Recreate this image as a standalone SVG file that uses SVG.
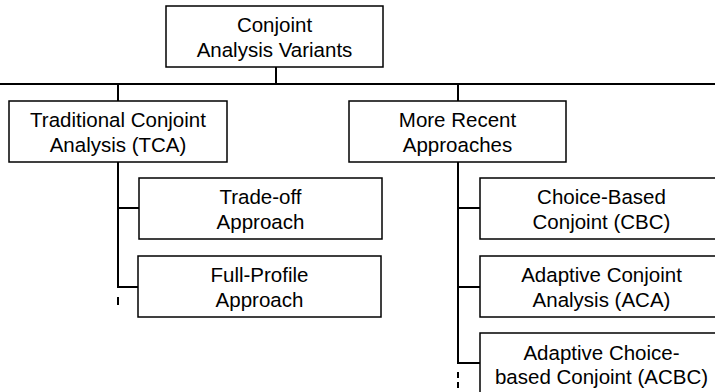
<svg xmlns="http://www.w3.org/2000/svg" width="715" height="392" viewBox="0 0 715 392">
<style>
.box{fill:#fff;stroke:#000;stroke-width:1.5}
.t{font-family:"Liberation Sans",Arial,sans-serif;font-size:20.5px;fill:#000;text-anchor:middle}
.c{stroke:#000;stroke-width:2;fill:none}
</style>
<rect width="715" height="392" fill="#fff"/>
<g id="connectors">
<line class="c" x1="276" y1="67" x2="276" y2="84"/>
<line class="c" x1="0" y1="84" x2="715" y2="84"/>
<line class="c" x1="118" y1="84" x2="118" y2="101"/>
<line class="c" x1="458" y1="84" x2="458" y2="101"/>
<line class="c" x1="118" y1="162" x2="118" y2="287"/>
<line class="c" x1="117" y1="208" x2="139" y2="208"/>
<line class="c" x1="117" y1="287" x2="138" y2="287"/>
<line class="c" x1="118" y1="297" x2="118" y2="305"/>
<line class="c" x1="458" y1="162" x2="458" y2="363"/>
<line class="c" x1="457" y1="208" x2="480" y2="208"/>
<line class="c" x1="457" y1="287" x2="480" y2="287"/>
<line class="c" x1="457" y1="363" x2="480" y2="363"/>
<line class="c" x1="458" y1="372" x2="458" y2="392" stroke-dasharray="6 4"/>
</g>
<g id="root">
<rect class="box" x="166" y="6" width="217" height="61"/>
<text class="t" x="274.5" y="32">Conjoint</text>
<text class="t" x="274.5" y="57">Analysis Variants</text>
</g>
<g id="tca">
<rect class="box" x="9" y="101" width="218" height="61"/>
<text class="t" x="118" y="127">Traditional Conjoint</text>
<text class="t" x="118" y="152">Analysis (TCA)</text>
</g>
<g id="recent">
<rect class="box" x="349" y="101" width="217" height="61"/>
<text class="t" x="457.5" y="127">More Recent</text>
<text class="t" x="457.5" y="152">Approaches</text>
</g>
<g id="tradeoff">
<rect class="box" x="139" y="178" width="243" height="61"/>
<text class="t" x="260.5" y="204">Trade-off</text>
<text class="t" x="260.5" y="229">Approach</text>
</g>
<g id="fullprofile">
<rect class="box" x="138" y="256" width="243" height="61"/>
<text class="t" x="259.5" y="282">Full-Profile</text>
<text class="t" x="259.5" y="307">Approach</text>
</g>
<g id="cbc">
<rect class="box" x="480" y="178" width="243" height="61"/>
<text class="t" x="601.5" y="204">Choice-Based</text>
<text class="t" x="601.5" y="229">Conjoint (CBC)</text>
</g>
<g id="aca">
<rect class="box" x="480" y="256" width="243" height="61"/>
<text class="t" x="601.5" y="282">Adaptive Conjoint</text>
<text class="t" x="601.5" y="307">Analysis (ACA)</text>
</g>
<g id="acbc">
<rect class="box" x="480" y="333" width="243" height="62"/>
<text class="t" x="601.5" y="360">Adaptive Choice-</text>
<text class="t" x="601.5" y="384">based Conjoint (ACBC)</text>
</g>
</svg>
